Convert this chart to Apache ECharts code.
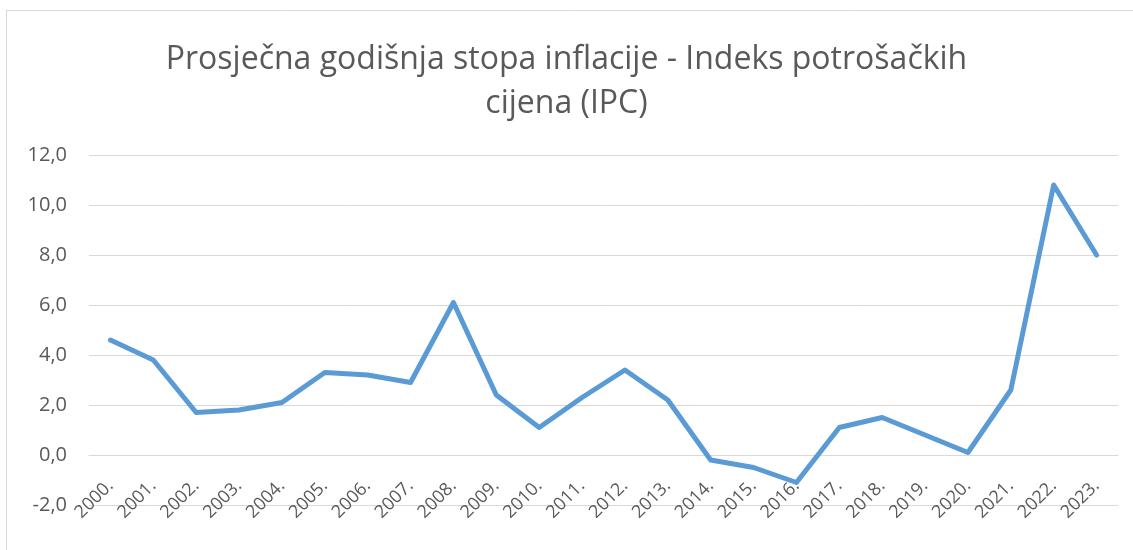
<!DOCTYPE html>
<html>
<head>
<meta charset="utf-8">
<script src="https://cdn.jsdelivr.net/npm/echarts@6/dist/echarts.min.js"></script>
<style>
html,body{margin:0;padding:0;background:#fff;}
#c{width:1133px;height:550px;}
</style>
</head>
<body>
<div id="c"></div>
<script>
const titleText = 'Prosječna godišnja stopa inflacije - Indeks potrošačkih\ncijena (IPC)';
const years = ['2000.','2001.','2002.','2003.','2004.','2005.','2006.','2007.','2008.','2009.','2010.','2011.','2012.','2013.','2014.','2015.','2016.','2017.','2018.','2019.','2020.','2021.','2022.','2023.'];
const inflation = [4.6,3.8,1.7,1.8,2.1,3.3,3.2,2.9,6.1,2.4,1.1,2.3,3.4,2.2,-0.2,-0.5,-1.1,1.1,1.5,0.8,0.1,2.6,10.8,8.0];
const yMin = -2, yMax = 12, yStep = 2;

const chart = echarts.init(document.getElementById('c'));
chart.setOption({
  backgroundColor: '#fff',
  animation: false,
  title: {
    text: titleText,
    left: 'center',
    top: 33,
    textStyle: {fontFamily: 'Open Sans', fontSize: 32, fontWeight: 'normal', color: '#595959', lineHeight: 44}
  },
  graphic: [
    {type: 'line', shape: {x1: 6, y1: 10.5, x2: 1133, y2: 10.5}, style: {stroke: '#d9d9d9', lineWidth: 1}},
    {type: 'line', shape: {x1: 6.5, y1: 10, x2: 6.5, y2: 550}, style: {stroke: '#d9d9d9', lineWidth: 1}}
  ],
  grid: {left: 89, right: 15, top: 155, height: 350, containLabel: false},
  xAxis: {
    type: 'category',
    data: years,
    boundaryGap: true,
    axisLine: {onZero: true, lineStyle: {color: '#d9d9d9', width: 1}},
    axisTick: {show: false},
    axisLabel: {rotate: 45, margin: -22, fontFamily: 'Open Sans', fontSize: 18, color: '#595959', interval: 0}
  },
  yAxis: {
    type: 'value',
    min: yMin, max: yMax, interval: yStep,
    axisLine: {show: false},
    axisTick: {show: false},
    splitLine: {lineStyle: {color: '#d9d9d9', width: 1}},
    axisLabel: {
      margin: 22,
      fontFamily: 'Open Sans', fontSize: 20, color: '#595959',
      formatter: v => v.toFixed(1).replace('.', ',')
    }
  },
  series: [{
    type: 'line',
    data: inflation,
    symbol: 'none',
    lineStyle: {color: '#5b9bd5', width: 5, cap: 'round', join: 'round'},
    itemStyle: {color: '#5b9bd5'}
  }]
});
</script>
</body>
</html>
